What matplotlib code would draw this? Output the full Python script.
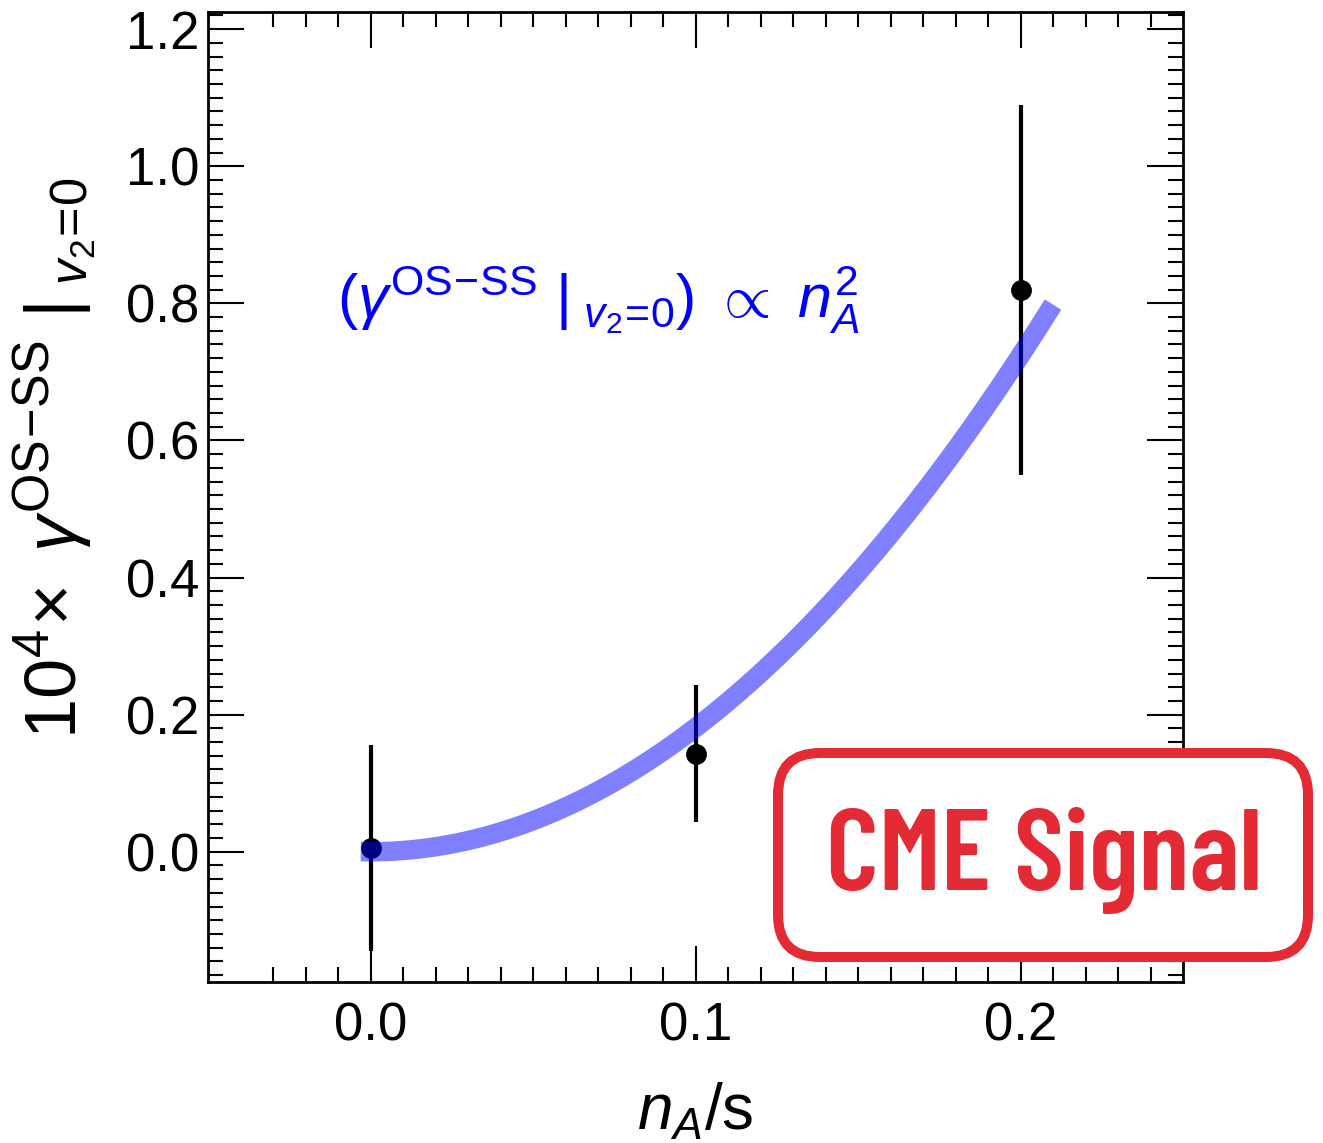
import numpy as np
import matplotlib
matplotlib.use('Agg')
import matplotlib.pyplot as plt
from matplotlib.ticker import FixedLocator
from matplotlib.patches import FancyBboxPatch

plt.rcParams['font.family'] = ['Liberation Sans', 'DejaVu Sans']
plt.rcParams['mathtext.fontset'] = 'custom'
plt.rcParams['mathtext.rm'] = 'Liberation Sans'
plt.rcParams['mathtext.it'] = 'Liberation Sans:italic'
plt.rcParams['mathtext.bf'] = 'Liberation Sans:bold'

# data points
nA = [0.0, 0.1, 0.2]
gamma = [0.005, 0.143, 0.82]
gamma_err = [0.15, 0.10, 0.27]

# quadratic fit curve  gamma = a * nA^2
fit_a = 18.1
fit_x = np.linspace(-0.003, 0.21, 200)
fit_y = fit_a * fit_x ** 2

xticks = [0.0, 0.1, 0.2]
yticks = [0.0, 0.2, 0.4, 0.6, 0.8, 1.0, 1.2]

fig = plt.figure(figsize=(13.23, 11.43), dpi=100)
ax = fig.add_axes([208 / 1323, 1 - 982 / 1143, (1183 - 208) / 1323, (982 - 12) / 1143])

ax.errorbar(nA, gamma, yerr=gamma_err, fmt='o', color='black', ms=14,
            elinewidth=3, capsize=0, zorder=2)
ax.plot(fit_x, fit_y, color='blue', alpha=0.5, lw=14, solid_capstyle='butt', zorder=3)

ax.set_xlim(-0.05, 0.25)
ax.set_ylim(-0.19, 1.225)
ax.set_xticks(xticks)
ax.set_xticklabels(['0.0', '0.1', '0.2'])
ax.set_yticks(yticks)
ax.set_yticklabels([f'{v:.1f}' for v in yticks])
ax.xaxis.set_minor_locator(FixedLocator(np.arange(-3, 25) / 100))
ax.yaxis.set_minor_locator(FixedLocator(np.arange(-9, 62) / 50))

ax.tick_params(which='both', direction='in', top=True, right=True, width=1.5)
ax.tick_params(which='major', length=26, labelsize=38, pad=14)
ax.tick_params(which='minor', length=10.5)
ax.tick_params(axis='y', which='major', pad=6)
for s in ax.spines.values():
    s.set_linewidth(2)

ax.set_xlabel(r'$n_A/{\rm s}$', fontsize=46, labelpad=22)
ax.set_ylabel(r'$10^4\!\times\ \gamma^{\rm OS\!-\!SS}\ |_{\ v_2\!=\!0}$', fontsize=52)
ax.yaxis.set_label_coords(-0.112, 0.54)

ax.text(0.07, 0.805, r'$(\gamma^{\rm OS\!-\!SS}\ |_{\ v_2\!=\!0})\ \propto\ n_A^2$',
        color='blue', fontsize=44, ha='center', va='center')

# CME Signal box (figure inches)
box = FancyBboxPatch((7.78, 1.86), 5.30, 2.04, transform=fig.dpi_scale_trans,
                     boxstyle='round,pad=0,rounding_size=0.42', fc='white',
                     ec='#E32A35', lw=7.2, clip_on=False, zorder=5)
fig.patches.append(box)
fig.text(10.44, 2.53, 'CME Signal', color='#E32A35', fontsize=83,
         fontweight='semibold', family=['Barlow Condensed', 'Liberation Sans'],
         ha='center', va='baseline', transform=fig.dpi_scale_trans, zorder=6)

fig.savefig('out.png', dpi=100)
